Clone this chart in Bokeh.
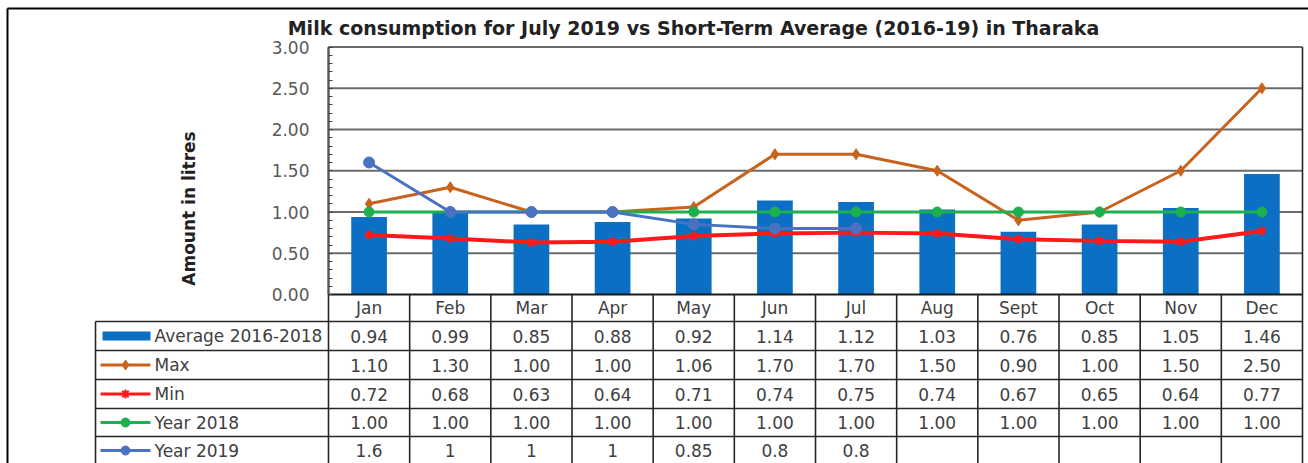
import numpy as np
from bokeh.plotting import figure
from bokeh.models import Range1d, LinearAxis, FixedTicker, NumeralTickFormatter, Label
from bokeh.core.properties import value
from bokeh.embed import file_html
from bokeh.resources import INLINE

# ---------------- data ----------------
months = ["Jan", "Feb", "Mar", "Apr", "May", "Jun", "Jul", "Aug", "Sept", "Oct", "Nov", "Dec"]
avg_2016_2018 = [0.94, 0.99, 0.85, 0.88, 0.92, 1.14, 1.12, 1.03, 0.76, 0.85, 1.05, 1.46]
max_vals = [1.10, 1.30, 1.00, 1.00, 1.06, 1.70, 1.70, 1.50, 0.90, 1.00, 1.50, 2.50]
min_vals = [0.72, 0.68, 0.63, 0.64, 0.71, 0.74, 0.75, 0.74, 0.67, 0.65, 0.64, 0.77]
year_2018 = [1.00, 1.00, 1.00, 1.00, 1.00, 1.00, 1.00, 1.00, 1.00, 1.00, 1.00, 1.00]
year_2019 = [1.6, 1, 1, 1, 0.85, 0.8, 0.8]
year_2019_text = ["1.6", "1", "1", "1", "0.85", "0.8", "0.8"]
y_ticks = [0.0, 0.5, 1.0, 1.5, 2.0, 2.5, 3.0]
series_names = ["Average 2016-2018", "Max", "Min", "Year 2018", "Year 2019"]
title_text = "Milk consumption for July 2019 vs Short-Term Average (2016-19) in Tharaka"
y_label = "Amount in litres"

# ---------------- layout (pixel positions of the reference) ----------------
W, H = 1308, 463
OX, OY = 0, 0
X0_PX, XSTEP = 328.0, (1302.0 - 328.0) / 12
Y0_PX, YSTEP = 294.0, (294.0 - 46.5) / 3


def px2x(px):
    return -0.5 + (px - X0_PX) / XSTEP


def px2y(py):
    return (Y0_PX - py) / YSTEP


C_BAR = "#0B6FC4"
C_MAX = "#C8621C"
C_MIN = "#FF1A1A"
C_2018 = "#1DB04E"
C_2019 = "#4A72C2"
C_TXT = "#404040"
C_GRID = "#6b6b6b"
C_TAB = "#262626"
FONT = "DejaVu Sans"
FS = "17px"

p = figure(width=W, height=H,
           x_range=Range1d(px2x(OX), px2x(OX + W)),
           y_range=Range1d(px2y(OY + H), px2y(OY)),
           output_backend="svg", toolbar_location=None,
           x_axis_type=None, y_axis_type=None, min_border=0)
p.outline_line_color = None
p.background_fill_color = "white"
p.border_fill_color = "white"

idx = list(range(len(months)))
x_left, x_right = -0.5, len(months) - 0.5

# outer chart border (left & top)
p.segment(x0=[px2x(7)], y0=[px2y(8)], x1=[px2x(7)], y1=[px2y(OY + H)], line_color="black", line_width=2)
p.segment(x0=[px2x(7)], y0=[px2y(8)], x1=[px2x(OX + W)], y1=[px2y(8)], line_color="black", line_width=2)

# grid lines
grid_y = [t for t in y_ticks if t > 0]
p.segment(x0=[x_left] * len(grid_y), x1=[x_right] * len(grid_y), y0=grid_y, y1=grid_y,
          line_color=C_GRID, line_width=2)

# y axis
yax = LinearAxis(fixed_location=x_left, bounds=(0, 3),
                 ticker=FixedTicker(ticks=y_ticks, minor_ticks=[round(v, 2) for v in np.arange(0, 3.001, 0.1)]),
                 formatter=NumeralTickFormatter(format="0.00"))
yax.major_tick_in = 0
yax.major_tick_out = 0
yax.minor_tick_in = 4
yax.minor_tick_out = 0
yax.minor_tick_line_color = "#404040"
yax.axis_line_color = "#555555"
yax.axis_line_width = 2
yax.major_label_text_font = FONT
yax.major_label_text_font_size = FS
yax.major_label_text_color = "#595959"
yax.major_label_standoff = 19
p.add_layout(yax, "left")

# bars
p.vbar(x=idx, top=avg_2016_2018, width=0.44, bottom=0, fill_color=C_BAR, line_color=None)

# lines
p.line(idx, max_vals, line_color=C_MAX, line_width=3)
p.scatter(idx, max_vals, marker="diamond", size=11, fill_color=C_MAX, line_color=C_MAX)
p.line(idx, min_vals, line_color=C_MIN, line_width=4)
p.scatter(idx, min_vals, marker="asterisk", size=9, line_color=C_MIN, line_width=2)
p.line(idx, year_2018, line_color=C_2018, line_width=3)
p.scatter(idx, year_2018, marker="circle", size=10, fill_color=C_2018, line_color=C_2018)
i19 = idx[:len(year_2019)]
p.line(i19, year_2019, line_color=C_2019, line_width=3)
p.scatter(i19, year_2019, marker="circle", size=11, fill_color=C_2019, line_color=C_2019)

# ---------------- data table ----------------
row_lines_px = [321, 350, 379, 408, 436]
header_c_px = 307.5
row_c_px = [335.5, 364.5, 393.5, 422, 450]
bottom_y = px2y(OY + H + 10)
tab_left = px2x(95)

# zero line
p.segment(x0=[x_left], x1=[x_right], y0=[0], y1=[0], line_color="#1a1a1a", line_width=2)
# horizontal table lines
ry = [px2y(v) for v in row_lines_px]
p.segment(x0=[tab_left] * len(ry), x1=[x_right] * len(ry), y0=ry, y1=ry, line_color=C_TAB, line_width=1.6)
# vertical table lines
bounds_x = [i - 0.5 for i in range(1, len(months))]
p.segment(x0=bounds_x, x1=bounds_x, y0=[0] * len(bounds_x), y1=[bottom_y] * len(bounds_x),
          line_color=C_TAB, line_width=1.6)
p.segment(x0=[x_left, x_right], x1=[x_left, x_right], y0=[3, 3], y1=[bottom_y, bottom_y],
          line_color=C_TAB, line_width=1.6)
p.segment(x0=[tab_left], x1=[tab_left], y0=[px2y(321)], y1=[bottom_y], line_color=C_TAB, line_width=1.6)

txt_kw = dict(text_font=value(FONT), text_font_size=FS, text_color=C_TXT,
              text_align="center", text_baseline="middle")
p.text(x=idx, y=[px2y(header_c_px)] * 12, text=months, **txt_kw)
rows = [
    ["%.2f" % v for v in avg_2016_2018],
    ["%.2f" % v for v in max_vals],
    ["%.2f" % v for v in min_vals],
    ["%.2f" % v for v in year_2018],
    year_2019_text,
]
for r, cells in enumerate(rows):
    p.text(x=idx[:len(cells)], y=[px2y(row_c_px[r])] * len(cells), text=cells, **txt_kw)

# legend keys in the table
lx0, lx1, lxm = px2x(100), px2x(150), px2x(125)
ys = [px2y(v) for v in row_c_px]
p.quad(left=[px2x(102)], right=[px2x(150)], bottom=[ys[0] - 4.5 / YSTEP], top=[ys[0] + 4.5 / YSTEP],
       fill_color=C_BAR, line_color=None)
p.segment(x0=[lx0], x1=[lx1], y0=[ys[1]], y1=[ys[1]], line_color=C_MAX, line_width=3)
p.scatter([lxm], [ys[1]], marker="diamond", size=10, fill_color=C_MAX, line_color=C_MAX)
p.segment(x0=[lx0], x1=[lx1], y0=[ys[2]], y1=[ys[2]], line_color=C_MIN, line_width=3)
p.scatter([lxm], [ys[2]], marker="asterisk", size=9, line_color=C_MIN, line_width=2)
p.segment(x0=[lx0], x1=[lx1], y0=[ys[3]], y1=[ys[3]], line_color=C_2018, line_width=3)
p.scatter([lxm], [ys[3]], marker="circle", size=9, fill_color=C_2018, line_color=C_2018)
p.segment(x0=[lx0], x1=[lx1], y0=[ys[4]], y1=[ys[4]], line_color=C_2019, line_width=3)
p.scatter([lxm], [ys[4]], marker="circle", size=9, fill_color=C_2019, line_color=C_2019)
p.text(x=[px2x(154)] * 5, y=ys, text=series_names,
       text_font=value(FONT), text_font_size=FS, text_color=C_TXT,
       text_align="left", text_baseline="middle")

# title and y label
p.add_layout(Label(x=px2x(693), y=px2y(27), text=title_text, text_font=FONT, text_font_size="19px",
                   text_font_style="bold", text_color="#222222", text_align="center", text_baseline="middle"))
p.add_layout(Label(x=px2x(188), y=px2y(208), text=y_label, angle=np.pi / 2, text_font=FONT,
                   text_font_size="17px", text_font_style="bold", text_color="#222222",
                   text_align="center", text_baseline="middle"))

open("out.html", "w").write(file_html(p, INLINE))
